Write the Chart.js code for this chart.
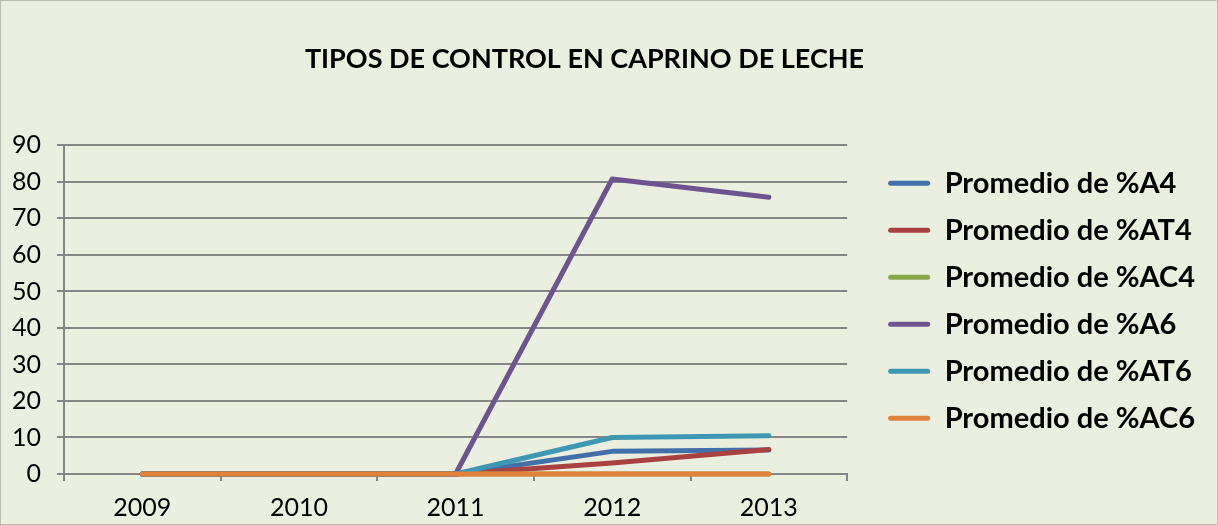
<!DOCTYPE html>
<html>
<head>
<meta charset="utf-8">
<script src="https://cdn.jsdelivr.net/npm/chart.js@4.4.0/dist/chart.umd.min.js"></script>
<style>
  html, body { margin: 0; padding: 0; background: #ebefe0; }
  .chart-container { position: relative; width: 1216px; height: 523px; border: 1px solid #b9bcb0; }
</style>
</head>
<body>
<div class="chart-container">
  <canvas id="chart"></canvas>
</div>
<script>
// categories (years)
const years = ['2009', '2010', '2011', '2012', '2013'];

// series values
const a4 = [0, 0, 0, 6.2, 6.6];
const at4 = [0, 0, 0, 3.0, 6.7];
const ac4 = [0, 0, 0, 0, 0];
const a6 = [0, 0, 0, 80.8, 75.8];
const at6 = [0, 0, 0, 10.0, 10.5];
const ac6 = [0, 0, 0, 0, 0];

const seriesNames = ['Promedio de %A4', 'Promedio de %AT4', 'Promedio de %AC4', 'Promedio de %A6', 'Promedio de %AT6', 'Promedio de %AC6'];
const seriesData = [a4, at4, ac4, a6, at6, ac6];
const seriesColors = ['#4470a9', '#a8413f', '#88a64b', '#6e5391', '#3e98b2', '#e0823a'];

const yTicks = [0, 10, 20, 30, 40, 50, 60, 70, 80, 90];

const FONT = 'Lato, "Open Sans", sans-serif';

// nudge the legend and title into the spots they have in the original
const nudgeBoxes = {
  id: 'nudgeBoxes',
  afterLayout: chart => {
    chart.legend.left += 23;
    chart.legend.right += 23;
    chart.legend.top -= 9;
    chart.legend.bottom -= 9;
    if (chart.titleBlock) {
      chart.titleBlock.left -= 10;
      chart.titleBlock.right -= 10;
    }
  }
};

const renderChart = () => {
  const ctx = document.getElementById('chart').getContext('2d');
  new Chart(ctx, {
    type: 'line',
    data: {
      labels: years,
      datasets: seriesData.map((d, i) => ({
        label: seriesNames[i],
        data: d,
        borderColor: seriesColors[i],
        backgroundColor: seriesColors[i],
        borderWidth: 5,
        borderCapStyle: 'round',
        borderJoinStyle: 'round',
        pointRadius: 0,
        tension: 0,
        clip: 6, // lines sitting on 0 stay fully visible over the axis
        order: seriesData.length - i // later series drawn on top, like the original
      }))
    },
    plugins: [nudgeBoxes],
    options: {
      responsive: true,
      maintainAspectRatio: false,
      animation: false,
      layout: { padding: { top: 42, left: 6, right: 35, bottom: 2 } },
      plugins: {
        title: {
          display: true,
          text: 'TIPOS DE CONTROL EN CAPRINO DE LECHE',
          color: '#000',
          font: { family: FONT, size: 27, weight: 'bold' },
          padding: { top: 0, bottom: 70 }
        },
        legend: {
          position: 'right',
          align: 'center',
          fullSize: false,
          maxWidth: 420,
          labels: {
            color: '#000',
            font: { family: FONT, size: 29, weight: 'bold' },
            boxWidth: 42,
            boxHeight: 5,
            padding: 18,
            useBorderRadius: true,
            borderRadius: 2.5,
            generateLabels: chart => Chart.defaults.plugins.legend.labels.generateLabels(chart)
              .map(item => ({ ...item, lineWidth: 0 })),
            sort: (a, b) => a.datasetIndex - b.datasetIndex
          }
        },
        tooltip: { enabled: false }
      },
      scales: {
        x: {
          offset: true,
          afterFit: axis => { axis.height = 48; },
          grid: { display: true, drawOnChartArea: false, drawTicks: true, tickLength: 7, color: '#868686', lineWidth: 2, offset: true },
          border: { color: '#868686', width: 2 },
          ticks: { color: '#000', font: { family: FONT, size: 25 }, padding: 12 }
        },
        y: {
          min: 0,
          max: 90,
          afterBuildTicks: axis => { axis.ticks = yTicks.map(v => ({ value: v })); },
          afterFit: axis => { axis.width = 57; },
          grid: { color: '#868686', lineWidth: 2, drawTicks: true, tickLength: 7 },
          border: { color: '#868686', width: 2 },
          ticks: { color: '#000', font: { family: FONT, size: 25 }, padding: 16 }
        }
      }
    }
  });
};

// wait for the local fonts so text widths are measured right
Promise.all([
  document.fonts.load('bold 29px Lato'),
  document.fonts.load('bold 27px Lato'),
  document.fonts.load('25px Lato')
]).then(renderChart, renderChart);
</script>
</body>
</html>
